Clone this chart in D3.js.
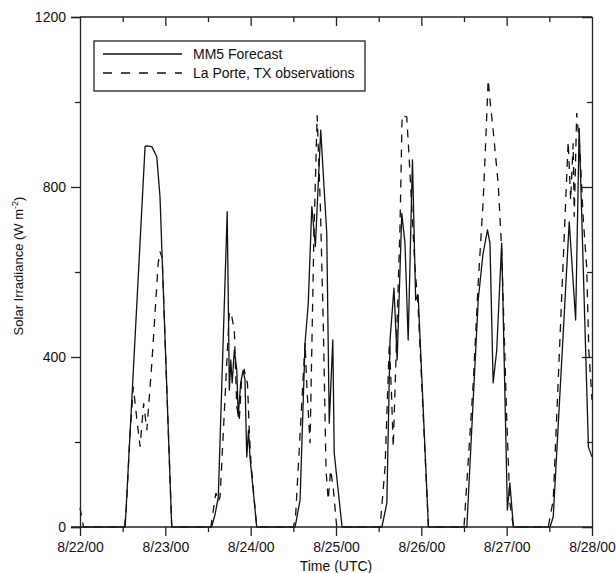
<!DOCTYPE html>
<html>
<head>
<meta charset="utf-8">
<script src="https://cdn.jsdelivr.net/npm/d3@7"></script>
<style>
  html, body { margin: 0; padding: 0; background: #fff; }
  svg { display: block; font-family: "Liberation Sans", Arial, sans-serif; }
</style>
</head>
<body>
<svg id="chart" width="616" height="573"></svg>
<script>
// Hours since 8/22/00 00:00 UTC and solar irradiance (W m-2)
const forecastHours = [
  0, 12.7, 18.3, 18.6, 20.2, 21.6, 22.5, 25.8,
  37.0, 38.0, 38.9, 41.4, 42.0, 42.4, 42.8, 43.4, 44.1, 44.5, 45.2, 45.9, 46.4, 46.9, 47.4, 47.8, 49.7,
  60.5, 61.9, 63.3, 64.2, 65.2, 66.2, 67.7, 69.4, 70.1, 71.1, 71.5, 73.7,
  84.9, 86.3, 87.2, 88.3, 89.2, 90.5, 91.4, 92.3, 93.5, 94.4, 95.1, 98.0,
  108.8, 112.0, 113.3, 114.6, 115.3, 116.2, 117.2, 118.6, 120.2, 120.9, 121.9,
  132.2, 133.1, 137.6, 139.4, 140.4, 143.0, 144.0
];
const forecastWm2 = [
  0, 0, 895, 897, 895, 871, 777, 0,
  0, 30, 71, 742, 322, 393, 339, 416, 369, 260, 339, 369, 346, 165, 228, 165, 0,
  0, 64, 433, 527, 754, 660, 934, 691, 244, 440, 174, 0,
  0, 56, 440, 562, 393, 738, 668, 440, 864, 534, 546, 0,
  0, 534, 640, 699, 668, 339, 416, 668, 40, 104, 0,
  0, 24, 718, 487, 938, 188, 165
];

const obsHours = [
  0, 1.0, 12.5, 13.0, 14.0, 15.0, 15.9, 16.9, 17.9, 18.8, 20.2, 22.0, 22.5, 23.1, 25.8,
  36.8, 38.2, 38.9, 39.4, 42.0, 42.7, 43.4, 44.1, 44.8, 45.5, 46.2, 47.1, 47.6, 48.1, 49.7,
  60.0, 60.6, 63.3, 63.8, 64.7, 65.8, 66.7, 67.6, 68.4, 69.2, 69.8, 70.5, 71.2, 72.2,
  84.4, 85.8, 87.0, 87.6, 88.1, 90.0, 90.6, 91.9, 92.6, 94.2, 95.1, 98.0,
  108.0, 110.6, 112.0, 113.4, 114.2, 114.8, 115.3, 116.2, 117.6, 118.6, 120.0, 120.9, 121.9,
  131.7, 133.1, 137.3, 138.0, 138.7, 139.0, 139.7, 140.6, 141.5, 142.5, 143.1, 144.0
];
const obsWm2 = [
  45, 0, 0, 40, 210, 330, 260, 189, 291, 228, 385, 621, 648, 634, 0,
  0, 80, 60, 71, 507, 495, 463, 283, 252, 354, 369, 338, 228, 150, 0,
  0, 20, 433, 330, 197, 691, 969, 754, 487, 134, 64, 134, 94, 0,
  0, 141, 433, 315, 188, 706, 969, 965, 864, 612, 518, 0,
  0, 339, 574, 769, 927, 1052, 1005, 934, 809, 652, 259, 56, 0,
  0, 64, 907, 769, 903, 730, 974, 887, 730, 612, 416, 299
];

const dayTicks = [0, 24, 48, 72, 96, 120, 144];
const dayLabels = ["8/22/00", "8/23/00", "8/24/00", "8/25/00", "8/26/00", "8/27/00", "8/28/00"];
const halfDayTicks = [12, 36, 60, 84, 108, 132];
const yMajorTicks = [0, 400, 800, 1200];
const yMinorTicks = [200, 600, 1000];

const seriesNames = ["MM5 Forecast", "La Porte, TX observations"];

const svg = d3.select("#chart");
const plotLeft = 80, plotRight = 592, plotTop = 17, plotBottom = 527;

const x = d3.scaleLinear().domain([0, 144]).range([plotLeft, plotRight]);
const y = d3.scaleLinear().domain([0, 1200]).range([plotBottom, plotTop]);

const forecast = forecastHours.map((h, i) => [h, forecastWm2[i]]);
const obs = obsHours.map((h, i) => [h, obsWm2[i]]);

const line = d3.line().x(d => x(d[0])).y(d => y(d[1]));

const fontSize = 14;

// data lines
svg.append("path").datum(forecast)
  .attr("d", line).attr("fill", "none")
  .attr("stroke", "#111").attr("stroke-width", 1.3).attr("stroke-linejoin", "round");
svg.append("path").datum(obs)
  .attr("d", line).attr("fill", "none")
  .attr("stroke", "#111").attr("stroke-width", 1.3)
  .attr("stroke-dasharray", "8,7");

// frame axes
const axisColor = "#222";
const g = svg.append("g");

// bottom
g.append("g").attr("transform", `translate(0,${plotBottom})`)
  .call(d3.axisBottom(x).tickValues(dayTicks).tickFormat((d, i) => dayLabels[i]).tickSizeOuter(0).tickSize(9).tickPadding(6))
  .call(a => a.select(".domain").attr("d", `M${plotLeft - 9},0H${plotRight}`));
g.append("g").attr("transform", `translate(0,${plotBottom})`)
  .call(d3.axisBottom(x).tickValues(halfDayTicks).tickFormat("").tickSizeOuter(0).tickSize(5))
  .call(a => a.select(".domain").remove());

// top
g.append("g").attr("transform", `translate(0,${plotTop})`)
  .call(d3.axisBottom(x).tickValues(dayTicks.slice(1, -1)).tickFormat("").tickSizeOuter(0).tickSize(9))
  .call(a => a.select(".domain").attr("d", `M${plotLeft},0H${plotRight}`));
g.append("g").attr("transform", `translate(0,${plotTop})`)
  .call(d3.axisBottom(x).tickValues(halfDayTicks).tickFormat("").tickSizeOuter(0).tickSize(5))
  .call(a => a.select(".domain").remove());

// left
g.append("g").attr("transform", `translate(${plotLeft},0)`)
  .call(d3.axisLeft(y).tickValues(yMajorTicks).tickFormat(d3.format("d")).tickSizeOuter(0).tickSize(9).tickPadding(5));
g.append("g").attr("transform", `translate(${plotLeft},0)`)
  .call(d3.axisLeft(y).tickValues(yMinorTicks).tickFormat("").tickSizeOuter(0).tickSize(5))
  .call(a => a.select(".domain").remove());

// right
g.append("g").attr("transform", `translate(${plotRight},0)`)
  .call(d3.axisLeft(y).tickValues(yMajorTicks.slice(1, -1)).tickFormat("").tickSizeOuter(0).tickSize(10));
g.append("g").attr("transform", `translate(${plotRight},0)`)
  .call(d3.axisLeft(y).tickValues(yMinorTicks).tickFormat("").tickSizeOuter(0).tickSize(5))
  .call(a => a.select(".domain").remove());

g.selectAll(".domain").attr("stroke", axisColor).attr("stroke-width", 1.3);
g.selectAll(".tick line").attr("stroke", axisColor).attr("stroke-width", 1.3);
g.selectAll(".tick text").attr("font-size", fontSize).attr("fill", "#111")
  .attr("font-family", "Liberation Sans, Arial, sans-serif");

// axis titles
svg.append("text")
  .attr("x", (plotLeft + plotRight) / 2).attr("y", 571)
  .attr("text-anchor", "middle").attr("font-size", fontSize).attr("fill", "#111")
  .text("Time (UTC)");

const yTitle = svg.append("text")
  .attr("transform", `translate(23,266) rotate(-90)`)
  .attr("text-anchor", "middle").attr("font-size", 13).attr("fill", "#111");
yTitle.append("tspan").text("Solar Irradiance (W m");
yTitle.append("tspan").attr("font-size", 9).attr("dy", -5).text("-2");
yTitle.append("tspan").attr("dy", 5).text(")");

// legend
const legend = svg.append("g");
legend.append("rect")
  .attr("x", 94).attr("y", 41).attr("width", 271).attr("height", 50)
  .attr("fill", "#fff").attr("stroke", axisColor).attr("stroke-width", 1.3);
const legendRows = [
  { name: seriesNames[0], dash: null, yy: 54 },
  { name: seriesNames[1], dash: "9,9", yy: 73 }
];
legendRows.forEach(r => {
  legend.append("line")
    .attr("x1", 103).attr("x2", 182).attr("y1", r.yy).attr("y2", r.yy)
    .attr("stroke", "#111").attr("stroke-width", 1.3)
    .attr("stroke-dasharray", r.dash);
  legend.append("text")
    .attr("x", 193).attr("y", r.yy + 5)
    .attr("font-size", fontSize).attr("fill", "#111")
    .text(r.name);
});
</script>
</body>
</html>
